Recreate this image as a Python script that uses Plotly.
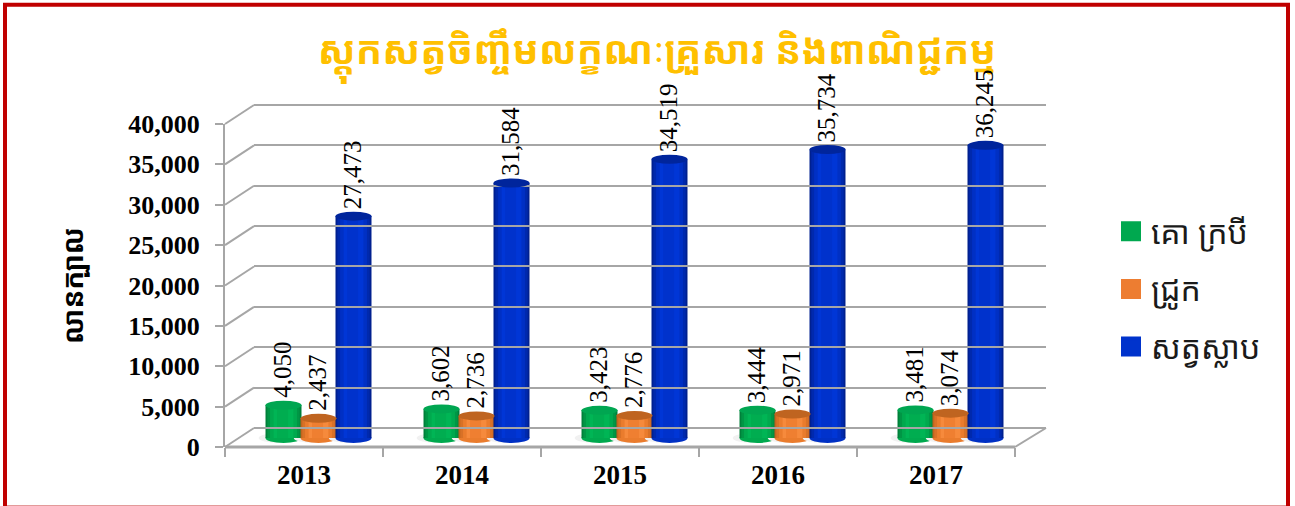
import plotly.graph_objects as go

years = ["2013", "2014", "2015", "2016", "2017"]
cattle = [4050, 3602, 3423, 3444, 3481]
pigs = [2437, 2736, 2776, 2971, 3074]
poultry = [27473, 31584, 34519, 35734, 36245]
names = ["គោ ក្របី", "ជ្រូក", "សត្វស្លាប"]
title_text = "ស្តុកសត្វចិញ្ចឹមលក្ខណៈគ្រួសារ និងពាណិជ្ជកម្ម"
y_title = "លានក្បាល"
y_ticks = [0, 5000, 10000, 15000, 20000, 25000, 30000, 35000, 40000]

W, H = 1295, 506
KH = "'Noto Sans Khmer','Khmer OS','Noto Sans','DejaVu Sans',sans-serif"
SERIF = "'Liberation Serif','Times New Roman',serif"
GRID = "#a6a6a6"

def fx(px):
    return px / W

def fy(py):
    return 1 - py / H

series = [
    (names[0], cattle, -0.2215, ["#00803a", "#009645", "#00a94e", "#00b555", "#00ad50"], "#00a651", "#00a84f"),
    (names[1], pigs, 0.0, ["#c2641f", "#d87127", "#ea7c2d", "#f68a3c", "#ef7f31"], "#bf6420", "#ed7d31"),
    (names[2], poultry, 0.2215, ["#00208f", "#0029ad", "#0030c4", "#0036d6", "#0032cc"], "#00259c", "#0033cc"),
]
stripe_widths = [0.2278, 0.205, 0.17, 0.125, 0.07]
stripe_shift = [0, 0, 0, 0, -0.006]

scale = 323 / 40000   # pixels per unit on all three value axes
pad = 1000            # extra value range so caps and edge gridlines are not clipped

fig = go.Figure()

fig.add_trace(go.Scatter(x=years, y=[0] * len(years), xaxis="x3", yaxis="y3", mode="markers",
                         marker=dict(opacity=0), showlegend=False, hoverinfo="skip"))
fig.add_trace(go.Scatter(x=years, y=[0] * len(years), xaxis="x", yaxis="y", mode="markers",
                         marker=dict(opacity=0), showlegend=False, hoverinfo="skip"))

shapes = []
annotations = []
for v in y_ticks:
    py = 447 - v * scale
    shapes.append(dict(type="line", xref="paper", yref="paper", x0=fx(225), x1=fx(254),
                       y0=fy(py), y1=fy(py - 19), line=dict(color=GRID, width=2), layer="below"))
shapes.append(dict(type="line", xref="paper", yref="paper", x0=fx(1015), x1=fx(1046),
                   y0=fy(447), y1=fy(428), line=dict(color=GRID, width=2), layer="below"))
shapes.append(dict(type="line", xref="paper", yref="paper", x0=fx(225), x1=fx(1015),
                   y0=fy(447), y1=fy(447), line=dict(color=GRID, width=3), layer="below"))

for name, vals, c, cols, top_col, base_col in series:
    for i, v in enumerate(vals):
        shapes.append(dict(type="circle", xref="x2", yref="y2", xsizemode="pixel", ysizemode="pixel",
                           xanchor=i + c - 0.03, yanchor=0, x0=-20, x1=20, y0=-5, y1=5,
                           fillcolor="#f1f1f1", line=dict(width=0), layer="below"))
        shapes.append(dict(type="circle", xref="x2", yref="y2", xsizemode="pixel", ysizemode="pixel",
                           xanchor=i + c, yanchor=0, x0=-18, x1=18, y0=-5, y1=5,
                           fillcolor=cols[2], line=dict(width=0), layer="below"))
    for k, (w, col) in enumerate(zip(stripe_widths, cols)):
        fig.add_trace(go.Bar(
            x=years, y=vals, xaxis="x2", yaxis="y2", width=w,
            offset=c - w / 2 + stripe_shift[k], marker=dict(color=col, line=dict(width=0)),
            showlegend=False, hoverinfo="skip", cliponaxis=False,
        ))
    for i, v in enumerate(vals):
        shapes.append(dict(type="circle", xref="x2", yref="y2", xsizemode="pixel", ysizemode="pixel",
                           xanchor=i + c, yanchor=v, x0=-18, x1=18, y0=-4.5, y1=4.5,
                           fillcolor=top_col, line=dict(width=0), layer="above"))
        annotations.append(dict(x=i + c, y=v, xref="x2", yref="y2", text=f"{v:,}", showarrow=False,
                                textangle=-90, yanchor="bottom", xanchor="center", yshift=5, xshift=-1,
                                font=dict(family=SERIF, size=25, color="#000000")))
    fig.add_trace(go.Scatter(x=[None], y=[None], xaxis="x2", yaxis="y2", mode="markers", name=name,
                             legendgroup=name, hoverinfo="skip",
                             marker=dict(symbol="square", size=16, color=base_col,
                                         line=dict(color=base_col, width=4))))

shapes.append(dict(type="rect", xref="paper", yref="paper", x0=fx(5), x1=fx(1288), y0=fy(512), y1=fy(4.7),
                   line=dict(color="#c00000", width=4), layer="above"))
shapes.append(dict(type="line", xref="paper", yref="paper", x0=fx(7), x1=fx(1286), y0=fy(505.5), y1=fy(505.5),
                   line=dict(color="#e39a9a", width=1), layer="above"))

fig.update_layout(
    width=W, height=H, autosize=False, margin=dict(l=0, r=0, t=0, b=0, pad=0),
    paper_bgcolor="white", plot_bgcolor="rgba(0,0,0,0)",
    barmode="overlay", shapes=shapes, annotations=annotations,
    title=dict(text=f"<b>{title_text}</b>", x=657 / W, xanchor="center", y=fy(50), yanchor="middle",
               font=dict(family=KH, size=39, color="#ffc000")),
    legend=dict(x=fx(1111), xanchor="left", y=fy(204), yanchor="top", tracegroupgap=13,
                font=dict(family=KH, size=32, color="#1a1a1a"), bgcolor="rgba(0,0,0,0)",
                itemclick=False, itemdoubleclick=False),
    xaxis=dict(domain=[fx(225), fx(1015)], type="category", categoryorder="array", categoryarray=years,
               range=[-0.5, 4.5], automargin=False, ticklabelstandoff=9,
               anchor="y", tickson="boundaries", ticks="outside", ticklen=9, tickcolor=GRID, tickwidth=2,
               showgrid=False, zeroline=False, showline=False, fixedrange=True,
               tickfont=dict(family=SERIF, size=27, color="#000000", weight="bold")),
    yaxis=dict(domain=[fy(447), fy(124)], range=[0, 40000], anchor="x", tickvals=y_ticks, tickformat=",d",
               automargin=False,
               ticks="outside", ticklen=8, tickcolor=GRID, tickwidth=2, showgrid=False, zeroline=False,
               showline=True, linecolor=GRID, linewidth=2, fixedrange=True, ticklabelstandoff=10,
               tickfont=dict(family=SERIF, size=26, color="#000000", weight="bold"),
               title=dict(text=f"<b>{y_title}</b>", standoff=36,
                          font=dict(family=KH, size=28, color="#000000"))),
    xaxis2=dict(domain=[fx(239.5), fx(1029.5)], type="category", categoryorder="array", categoryarray=years,
                range=[-0.5, 4.5], anchor="y2", visible=False, fixedrange=True, automargin=False),
    yaxis2=dict(domain=[fy(438 + pad * scale), fy(115)], range=[-pad, 40000], anchor="x2", visible=False,
                fixedrange=True, automargin=False),
    xaxis3=dict(domain=[fx(254), fx(1046)], type="category", categoryorder="array", categoryarray=years,
                range=[-0.5, 4.5], anchor="y3", visible=False, fixedrange=True, automargin=False),
    yaxis3=dict(domain=[fy(428 + pad * scale), fy(105 - pad * scale)], range=[-pad, 40000 + pad], anchor="x3",
                tickvals=y_ticks, showgrid=True,
                gridcolor=GRID, gridwidth=2, zeroline=False, showline=False, showticklabels=False, ticks="",
                fixedrange=True, automargin=False),
)

fig.write_html("out.html", post_script="document.body.style.margin='0';", config=dict(displayModeBar=False))
